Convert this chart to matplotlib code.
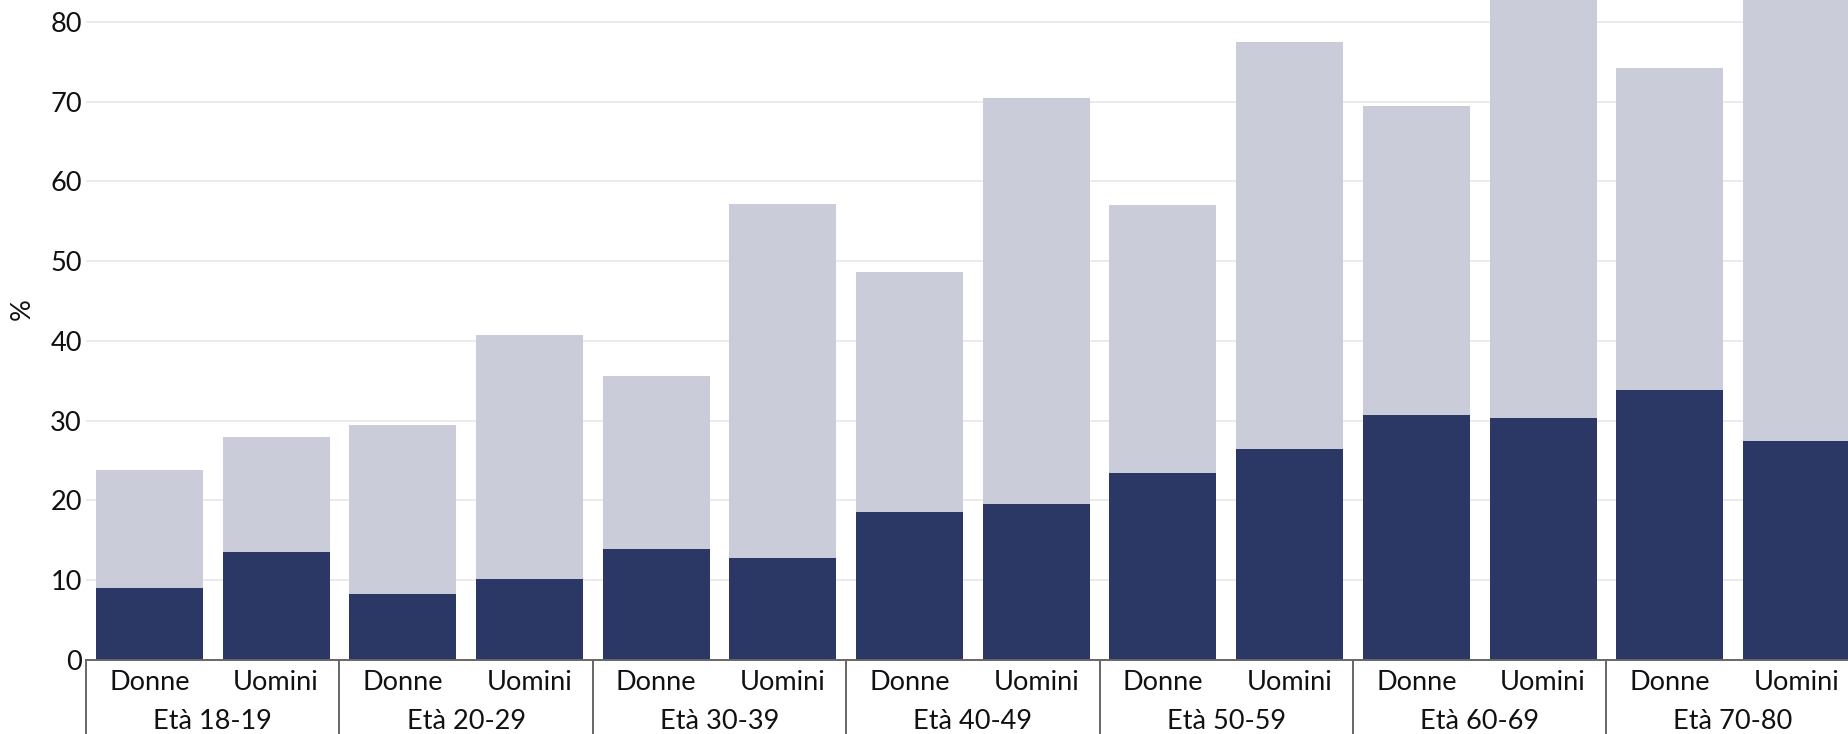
#!/usr/bin/env python3
"""Bar chart: share (%) by age group and sex, two overlapping series."""
import matplotlib
matplotlib.use("Agg")
import matplotlib.pyplot as plt
import matplotlib.transforms as mtransforms

plt.rcParams["font.family"] = ["Lato", "DejaVu Sans"]

groups = ["Età 18-19", "Età 20-29", "Età 30-39", "Età 40-49",
          "Età 50-59", "Età 60-69", "Età 70-80"]
sexes = ["Donne", "Uomini"]

# light bars (full height) and dark bars, one value per group x sex
light_values = [23.8, 27.9, 29.4, 40.7, 35.6, 57.1, 48.7,
                70.4, 57.0, 77.5, 69.4, 86.0, 74.2, 87.0]
dark_values = [9.0, 13.6, 8.3, 10.2, 13.9, 12.8, 18.5,
               19.6, 23.5, 26.4, 30.7, 30.3, 33.9, 27.5]
y_ticks = list(range(0, 90, 10))

LIGHT = "#cacdd9"
DARK = "#2b3764"
GRID = "#ebebeb"
AXIS = "#666666"
TEXT = "#111111"
FS = 19.5

W, H = 1848, 734
fig = plt.figure(figsize=(W / 100, H / 100), dpi=100)
# axes run past the right and top edges, like the cropped original
left_px, zero_px = 86, 660
slot_px = 126.7
n = len(light_values)
ax_h_px = 702
ax = fig.add_axes([left_px / W, (H - zero_px) / H,
                   n * slot_px / W, ax_h_px / H])

x = list(range(n))
ax.bar(x, light_values, width=0.845, color=LIGHT, edgecolor="none", zorder=2)
ax.bar(x, dark_values, width=0.845, color=DARK, edgecolor="none", zorder=3)

ax.set_xlim(-0.5, n - 0.5)
ax.set_ylim(0, 88)
ax.set_yticks(y_ticks)
ax.tick_params(axis="y", length=0, pad=3, labelsize=FS, labelcolor=TEXT)
ax.grid(axis="y", color=GRID, linewidth=1.4, zorder=0)
ax.set_axisbelow(True)

ax.set_xticks([])
for s in ["top", "right", "left"]:
    ax.spines[s].set_visible(False)
ax.spines["bottom"].set_color(AXIS)
ax.spines["bottom"].set_linewidth(1.4)
ax.spines["bottom"].set_zorder(4)

# sub labels (Donne / Uomini) and group labels under the axis
blend = mtransforms.blended_transform_factory(ax.transData, ax.transAxes)
for i in x:
    ax.annotate(sexes[i % 2], xy=(i, 0), xycoords=blend,
                xytext=(0, -21.5), textcoords="offset points",
                ha="center", va="baseline", fontsize=FS, color=TEXT)
for g, name in enumerate(groups):
    ax.annotate(name, xy=(2 * g + 0.5, 0), xycoords=blend,
                xytext=(0, -49.5), textcoords="offset points",
                ha="center", va="baseline", fontsize=FS, color=TEXT)
for g in range(len(groups) + 1):
    ax.plot([2 * g - 0.5, 2 * g - 0.5], [0, -0.2], transform=blend,
            color=AXIS, linewidth=1.4, clip_on=False, zorder=4)

fig.text(22 / W, 1 - 309 / H, "%", rotation=90, ha="center", va="center",
         fontsize=FS, color=TEXT)

fig.savefig("out.png", dpi=100, facecolor="white")
